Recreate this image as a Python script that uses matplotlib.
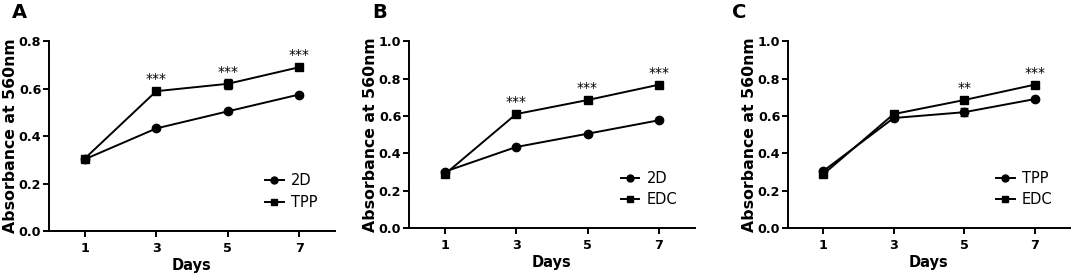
import matplotlib.pyplot as plt
from matplotlib.lines import Line2D

plt.rcParams['font.family'] = ['DejaVu Sans']

days = [1, 3, 5, 7]

# panel A
a_2d = [0.302, 0.432, 0.504, 0.575]
a_2d_err = [0.006, 0.006, 0.006, 0.006]
a_tpp = [0.305, 0.589, 0.620, 0.690]
a_tpp_err = [0.008, 0.008, 0.022, 0.008]
a_stars = ["", "***", "***", "***"]

# panel B
b_2d = [0.302, 0.434, 0.505, 0.577]
b_2d_err = [0.006, 0.006, 0.006, 0.006]
b_edc = [0.288, 0.610, 0.685, 0.767]
b_edc_err = [0.008, 0.008, 0.008, 0.008]
b_stars = ["", "***", "***", "***"]

# panel C
c_tpp = [0.305, 0.589, 0.620, 0.690]
c_tpp_err = [0.008, 0.008, 0.022, 0.008]
c_edc = [0.288, 0.610, 0.685, 0.767]
c_edc_err = [0.008, 0.008, 0.008, 0.008]
c_stars = ["", "", "**", "***"]

panels = [
    ("A", 0.011, [0.0457, 0.157, 0.2668, 0.693], 0.8, ("2D", a_2d, a_2d_err), ("TPP", a_tpp, a_tpp_err), a_stars),
    ("B", 0.347, [0.3815, 0.167, 0.2665, 0.683], 1.0, ("2D", b_2d, b_2d_err), ("EDC", b_edc, b_edc_err), b_stars),
    ("C", 0.683, [0.735, 0.167, 0.263, 0.683], 1.0, ("TPP", c_tpp, c_tpp_err), ("EDC", c_edc, c_edc_err), c_stars),
]

fig = plt.figure(figsize=(10.72, 2.74), dpi=100)

for letter, lx, pos, ymax, s1, s2, stars in panels:
    ax = fig.add_axes(pos)
    ax.errorbar(days, s1[1], yerr=s1[2], color="black", marker="o", markersize=6,
                lw=1.4, capsize=3, elinewidth=1.3)
    ax.errorbar(days, s2[1], yerr=s2[2], color="black", marker="s", markersize=5.5,
                lw=1.4, capsize=3, elinewidth=1.3)
    for d, v, s in zip(days, s2[1], stars):
        if s:
            ax.annotate(s, (d, v), xytext=(0, 3.5), textcoords="offset points",
                        ha="center", va="bottom", fontsize=10)
    ax.set_xlim(0, 8)
    ax.set_ylim(0, ymax)
    ax.set_xticks(days)
    ax.set_yticks([round(0.2 * i, 1) for i in range(int(round(ymax / 0.2)) + 1)])
    ax.spines["top"].set_visible(False)
    ax.spines["right"].set_visible(False)
    ax.spines["left"].set_linewidth(1.4)
    ax.spines["bottom"].set_linewidth(1.4)
    ax.tick_params(width=1.4, length=4, labelsize=9.2)
    ax.tick_params(axis="y", pad=1.5)
    ax.tick_params(axis="x", pad=4)
    for t in ax.get_xticklabels() + ax.get_yticklabels():
        t.set_fontweight("bold")
    ax.set_xlabel("Days", fontsize=10.5, fontweight="bold", labelpad=2)
    ax.set_ylabel("Absorbance at 560nm", fontsize=11.3, fontweight="bold", labelpad=0.5)
    handles = [Line2D([], [], color="black", marker="o", markersize=5, lw=1.4),
               Line2D([], [], color="black", marker="s", markersize=5, lw=1.4)]
    ax.legend(handles, [s1[0], s2[0]], loc="lower right", bbox_to_anchor=(0.96, 0.08),
              frameon=False, fontsize=10.5, handlelength=1.3, handletextpad=0.5,
              borderaxespad=0, labelspacing=0.45)
    fig.text(lx, 0.955, letter, fontsize=14, fontweight="bold", va="center")

fig.savefig("out.png", dpi=100)
